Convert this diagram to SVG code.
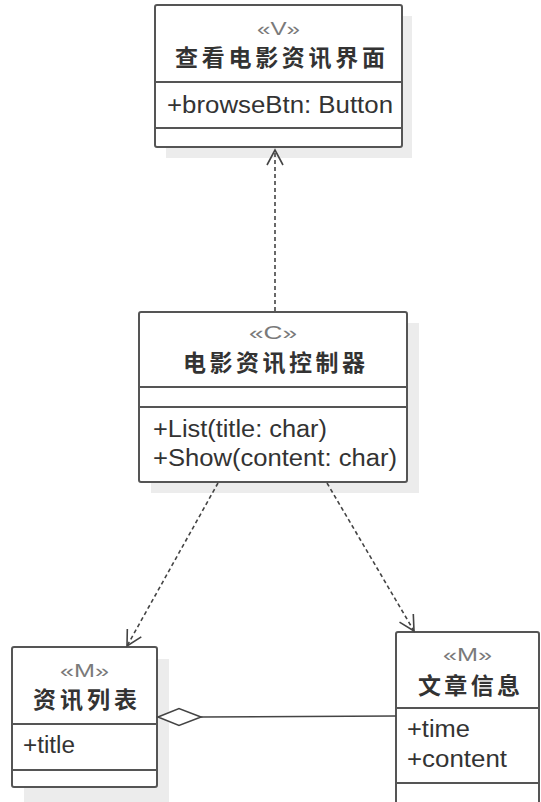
<svg xmlns="http://www.w3.org/2000/svg" width="541" height="802" viewBox="0 0 541 802">
<style>
.shadow{fill:#ececec;stroke:none}
.box{fill:#ffffff;stroke:#555555;stroke-width:2}
.sep{stroke:#555555;stroke-width:2}
.st{font-family:"Liberation Sans",Arial,sans-serif;font-size:19px;fill:#7a7a7a;text-anchor:middle}
.ttl{font-family:"Noto Sans CJK SC","Liberation Sans",sans-serif;font-size:23px;font-weight:bold;fill:#333333;text-anchor:middle}
.attr{font-family:"Liberation Sans",Arial,sans-serif;font-size:23px;fill:#333333}
.dep{fill:none;stroke:#444444;stroke-width:1.6;stroke-dasharray:4,3}
.assoc{fill:none;stroke:#444444;stroke-width:1.6}
</style>
<defs>
<marker id="open" viewBox="-17 -10 19 20" markerWidth="19" markerHeight="20" refX="0" refY="0" orient="auto" markerUnits="userSpaceOnUse">
<path d="M-15,-8 L0,0 L-15,8" fill="none" stroke="#444444" stroke-width="1.6" stroke-dasharray="none"/>
</marker>
</defs>
<rect width="541" height="802" fill="#ffffff"/>

<g id="shadows">
<rect class="shadow" x="166" y="16" width="246" height="142"/>
<rect class="shadow" x="151" y="323" width="268" height="170"/>
<rect class="shadow" x="24" y="659" width="145" height="143"/>
</g>

<g id="view">
<rect class="box" x="155" y="5" width="247" height="142" rx="2"/>
<line class="sep" x1="155" y1="82" x2="402" y2="82"/>
<line class="sep" x1="155" y1="128" x2="402" y2="128"/>
<text class="st" x="278.5" y="35" textLength="43" lengthAdjust="spacingAndGlyphs">«V»</text>
<text class="ttl" x="280" y="66" textLength="210">查看电影资讯界面</text>
<text class="attr" x="167" y="113" textLength="226" lengthAdjust="spacingAndGlyphs">+browseBtn: Button</text>
</g>

<g id="controller">
<rect class="box" x="139" y="312" width="268" height="170" rx="2"/>
<line class="sep" x1="139" y1="387" x2="407" y2="387"/>
<line class="sep" x1="139" y1="407" x2="407" y2="407"/>
<text class="st" x="273" y="339" textLength="48" lengthAdjust="spacingAndGlyphs">«C»</text>
<text class="ttl" x="274" y="371" textLength="182">电影资讯控制器</text>
<text class="attr" x="153" y="437" textLength="174" lengthAdjust="spacingAndGlyphs">+List(title: char)</text>
<text class="attr" x="153" y="466" textLength="244" lengthAdjust="spacingAndGlyphs">+Show(content: char)</text>
</g>

<g id="newslist">
<rect class="box" x="12" y="647" width="145" height="140" rx="2"/>
<line class="sep" x1="12" y1="724" x2="157" y2="724"/>
<line class="sep" x1="12" y1="770" x2="157" y2="770"/>
<text class="st" x="84.5" y="677" textLength="49" lengthAdjust="spacingAndGlyphs">«M»</text>
<text class="ttl" x="85" y="708" textLength="104">资讯列表</text>
<text class="attr" x="23" y="753" textLength="52" lengthAdjust="spacingAndGlyphs">+title</text>
</g>

<g id="article">
<rect class="box" x="396" y="632" width="143" height="180" rx="2"/>
<line class="sep" x1="396" y1="708" x2="539" y2="708"/>
<line class="sep" x1="396" y1="783" x2="539" y2="783"/>
<text class="st" x="467.5" y="661" textLength="49" lengthAdjust="spacingAndGlyphs">«M»</text>
<text class="ttl" x="469" y="694" textLength="102">文章信息</text>
<text class="attr" x="407" y="737" textLength="63" lengthAdjust="spacingAndGlyphs">+time</text>
<text class="attr" x="407" y="767" textLength="100" lengthAdjust="spacingAndGlyphs">+content</text>
</g>

<g id="connectors">
<line class="dep" x1="275" y1="311" x2="275" y2="150" marker-end="url(#open)"/>
<line class="dep" x1="218" y1="483" x2="127" y2="646" marker-end="url(#open)"/>
<line class="dep" x1="327" y1="483" x2="414" y2="631" marker-end="url(#open)"/>
<line class="assoc" x1="201" y1="717" x2="396" y2="716"/>
<polygon points="158,717 179,708.5 201,717 179,725.5" fill="#ffffff" stroke="#444444" stroke-width="1.6"/>
</g>
</svg>
